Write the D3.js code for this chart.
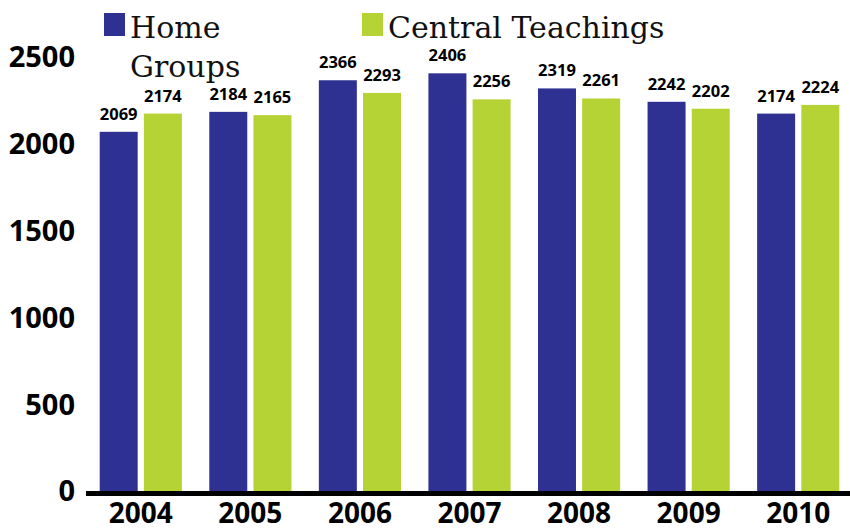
<!DOCTYPE html>
<html lang="en">
<head>
  <meta charset="UTF-8">
  <title>Home Groups vs Central Teachings</title>
  <script src="https://d3js.org/d3.v7.min.js"></script>
  <style>
    body { margin: 0; background: #fff; }
    .tick-label { font-family: "Open Sans", sans-serif; font-weight: bold; fill: #000; }
    .value { font-family: "Open Sans", sans-serif; font-weight: bold; font-size: 16.5px; fill: #000; text-anchor: middle; }
    .legend { font-family: "DejaVu Serif", serif; font-size: 30px; fill: #111; }
  </style>
</head>
<body>
  <div id="chart"></div>
  <script>
    const years = ["2004", "2005", "2006", "2007", "2008", "2009", "2010"];
    const homeGroups = [2069, 2184, 2366, 2406, 2319, 2242, 2174];
    const centralTeachings = [2174, 2165, 2293, 2256, 2261, 2202, 2224];
    const yTicks = [0, 500, 1000, 1500, 2000, 2500];
    const seriesNames = ["Home Groups", "Central Teachings"];
    const colors = ["#2e3192", "#b5d334"];

    const W = 850, H = 531;
    const dataset = years.map((y, i) => ({ year: y, values: [homeGroups[i], centralTeachings[i]] }));

    const svg = d3.select("#chart").append("svg")
      .attr("width", W)
      .attr("height", H);

    const x0 = d3.scaleBand()
      .domain(years)
      .range([86, 853])
      .paddingInner(0.25)
      .paddingOuter(0.125);

    const x1 = d3.scaleBand()
      .domain([0, 1])
      .range([0, x0.bandwidth()])
      .paddingInner(0.14);

    const y = d3.scaleLinear()
      .domain([0, 2500])
      .range([491, 57]);

    // y tick labels (no axis line)
    svg.append("g")
      .selectAll("text")
      .data(yTicks)
      .enter()
      .append("text")
      .attr("class", "tick-label")
      .attr("x", 75)
      .attr("y", d => y(d))
      .attr("dy", "0.36em")
      .attr("text-anchor", "end")
      .style("font-size", "29px")
      .text(d => d);

    // bars
    const groups = svg.append("g")
      .selectAll("g")
      .data(dataset)
      .enter()
      .append("g")
      .attr("transform", d => `translate(${x0(d.year)},0)`);

    groups.selectAll("rect")
      .data(d => d.values.map((v, k) => ({ k, v })))
      .enter()
      .append("rect")
      .attr("x", d => x1(d.k))
      .attr("y", d => y(d.v))
      .attr("width", x1.bandwidth())
      .attr("height", d => y(0) - y(d.v))
      .attr("fill", d => colors[d.k]);

    groups.selectAll(".value")
      .data(d => d.values.map((v, k) => ({ k, v })))
      .enter()
      .append("text")
      .attr("class", "value")
      .attr("x", d => x1(d.k) + x1.bandwidth() / 2)
      .attr("y", d => y(d.v) - 12)
      .text(d => d.v);

    // baseline
    svg.append("line")
      .attr("x1", 86)
      .attr("x2", W)
      .attr("y1", y(0) + 2.5)
      .attr("y2", y(0) + 2.5)
      .attr("stroke", "#000")
      .attr("stroke-width", 5);

    // x labels
    svg.append("g")
      .selectAll("text")
      .data(years)
      .enter()
      .append("text")
      .attr("class", "tick-label")
      .attr("x", d => x0(d) + x0.bandwidth() / 2)
      .attr("y", 523)
      .attr("text-anchor", "middle")
      .style("font-size", "28px")
      .text(d => d);

    // legend
    const legend = svg.append("g");
    legend.append("rect").attr("x", 104).attr("y", 13).attr("width", 21).attr("height", 23).attr("fill", colors[0]);
    legend.append("text").attr("class", "legend").attr("x", 130).attr("y", 38).text("Home");
    legend.append("text").attr("class", "legend").attr("x", 130).attr("y", 77).text("Groups");
    legend.append("rect").attr("x", 362).attr("y", 13).attr("width", 21).attr("height", 23).attr("fill", colors[1]);
    legend.append("text").attr("class", "legend").attr("x", 388).attr("y", 38).text(seriesNames[1]);
  </script>
</body>
</html>
